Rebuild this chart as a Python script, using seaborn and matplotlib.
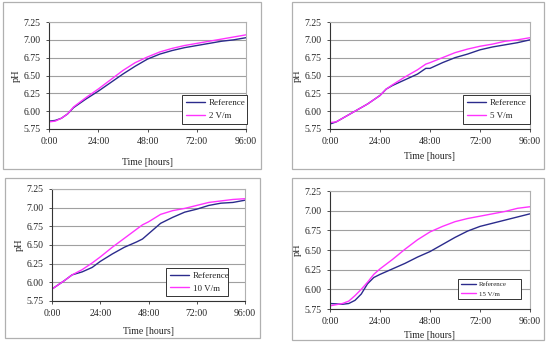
import matplotlib
matplotlib.use("Agg")
import matplotlib.pyplot as plt
import seaborn as sns
import pandas as pd
from matplotlib.patches import Rectangle
from matplotlib.lines import Line2D

sns.set_theme(style="white")
plt.rcParams['font.family'] = ['Liberation Serif', 'DejaVu Serif']

# ---- data ----
t1 = [0, 3, 6, 9, 12, 18, 24, 30, 36, 42, 48, 54, 60, 66, 72, 78, 84, 90, 96]
ref1 = [5.86, 5.87, 5.90, 5.96, 6.05, 6.17, 6.28, 6.40, 6.52, 6.63, 6.73, 6.80, 6.85, 6.89, 6.92, 6.95, 6.98, 7.00, 7.03]
v2 = [5.85, 5.86, 5.90, 5.96, 6.06, 6.19, 6.31, 6.44, 6.57, 6.68, 6.76, 6.83, 6.88, 6.92, 6.95, 6.98, 7.01, 7.04, 7.07]

t2 = [0, 3, 6, 12, 18, 24, 27, 30, 36, 42, 46, 48, 54, 60, 66, 72, 78, 84, 90, 96]
ref2 = [5.82, 5.85, 5.90, 6.00, 6.10, 6.22, 6.31, 6.36, 6.44, 6.52, 6.60, 6.60, 6.68, 6.75, 6.80, 6.86, 6.90, 6.93, 6.96, 7.00]
v5 = [5.84, 5.85, 5.90, 6.00, 6.10, 6.22, 6.31, 6.37, 6.48, 6.58, 6.66, 6.68, 6.75, 6.82, 6.87, 6.91, 6.94, 6.98, 7.00, 7.03]

t3 = [0, 6, 10, 15, 20, 24, 30, 36, 42, 45, 48, 51, 54, 60, 66, 72, 78, 84, 90, 96]
ref3 = [5.91, 6.02, 6.10, 6.14, 6.20, 6.28, 6.38, 6.47, 6.54, 6.58, 6.65, 6.72, 6.79, 6.87, 6.94, 6.98, 7.03, 7.06, 7.07, 7.10]
v10 = [5.91, 6.02, 6.10, 6.17, 6.26, 6.34, 6.47, 6.59, 6.71, 6.77, 6.81, 6.86, 6.91, 6.96, 6.99, 7.03, 7.07, 7.09, 7.11, 7.12]

t4 = [0, 6, 9, 12, 15, 18, 21, 24, 30, 36, 42, 48, 54, 60, 66, 72, 78, 84, 90, 96]
ref4 = [5.82, 5.81, 5.82, 5.86, 5.94, 6.07, 6.15, 6.19, 6.26, 6.33, 6.41, 6.48, 6.57, 6.66, 6.74, 6.80, 6.84, 6.88, 6.92, 6.96]
v15 = [5.79, 5.82, 5.85, 5.92, 6.00, 6.09, 6.19, 6.26, 6.38, 6.51, 6.63, 6.73, 6.80, 6.86, 6.90, 6.93, 6.96, 6.99, 7.03, 7.05]

x_ticks = [0, 24, 48, 72, 96]
x_labels = ["0:00", "24:00", "48:00", "72:00", "96:00"]
y_ticks = [5.75, 6.00, 6.25, 6.50, 6.75, 7.00, 7.25]
y_labels = ["5.75", "6.00", "6.25", "6.50", "6.75", "7.00", "7.25"]

panels = [
    (t1, ref1, v2, "2 V/m"),
    (t2, ref2, v5, "5 V/m"),
    (t3, ref3, v10, "10 V/m"),
    (t4, ref4, v15, "15 V/m"),
]

W, H = 550, 346
fig = plt.figure(figsize=(5.5, 3.46), dpi=100)
fig.patch.set_facecolor("white")

boxes = [(3, 2, 261, 169), (292, 2, 544, 169), (5, 178, 260, 338), (292, 178, 544, 340)]
axes_px = [(49, 22, 246, 129), (330, 22, 530, 129), (52, 189, 245, 301), (330, 191, 530, 309)]
legends_px = [(182, 97, 247, 122), (463, 97, 530, 122), (166, 268, 228, 296), (458, 275, 521, 303)]
xlab_cy = [163, 157, 331, 335]

ref_color = "#2b2b8c"
pink = "#ff33ff"

for i, (t, ref, v, lab) in enumerate(panels):
    bx0, by0, bx1, by1 = boxes[i]
    fig.patches.append(Rectangle((bx0 / W, 1 - by1 / H), (bx1 - bx0) / W, (by1 - by0) / H,
                                 transform=fig.transFigure, fill=False, edgecolor="#b0b0b0", lw=0.9))
    x0, y0, x1, y1 = axes_px[i]
    ax = fig.add_axes([x0 / W, 1 - y1 / H, (x1 - x0) / W, (y1 - y0) / H])
    df = pd.DataFrame({"t": t + t, "pH": ref + v,
                       "series": ["Reference"] * len(t) + [lab] * len(t)})
    sns.lineplot(data=df, x="t", y="pH", hue="series", palette=[ref_color, pink],
                 ax=ax, lw=1.0, legend=False)
    ax.set_xlim(0, 96)
    ax.set_ylim(5.75, 7.25)
    ax.set_xticks(x_ticks)
    ax.set_xticklabels(x_labels)
    ax.set_yticks(y_ticks)
    ax.set_yticklabels(y_labels)
    ax.grid(axis="y", color="#a0a0a0", lw=0.8)
    ax.set_axisbelow(True)
    for s in ["top", "right"]:
        ax.spines[s].set_color("#b0b0b0")
        ax.spines[s].set_linewidth(0.8)
    for s in ["left", "bottom"]:
        ax.spines[s].set_color("#333333")
        ax.spines[s].set_linewidth(0.8)
    ax.tick_params(axis="both", labelsize=7, length=2, width=0.6, color="#333333",
                   direction="out", pad=4, bottom=True, left=True)
    ax.set_xlabel("Time [hours]", fontsize=7)
    ax.xaxis.label.set_va("center")
    ax.set_ylabel("pH", fontsize=7.5, labelpad=2)
    ax.xaxis.set_label_coords(0.5, (y1 - xlab_cy[i]) / (y1 - y0))
    handles = [Line2D([], [], color=ref_color, lw=1.0), Line2D([], [], color=pink, lw=1.0)]
    lx0, ly0, lx1, ly1 = legends_px[i]
    bb = ((lx0 - x0) / (x1 - x0), (y1 - ly1) / (y1 - y0), (lx1 - lx0) / (x1 - x0), (ly1 - ly0) / (y1 - y0))
    fs = 5 if i == 3 else 6.5
    leg = ax.legend(handles, ["Reference", lab], loc="center", bbox_to_anchor=bb, mode="expand",
                    fontsize=fs, frameon=True, fancybox=False, framealpha=1, edgecolor="#333333",
                    handlelength=2.2, handletextpad=0.4, borderpad=0.4, labelspacing=0.5,
                    borderaxespad=0)
    leg.get_frame().set_linewidth(0.7)

fig.savefig("out.png", dpi=100, facecolor="white")
